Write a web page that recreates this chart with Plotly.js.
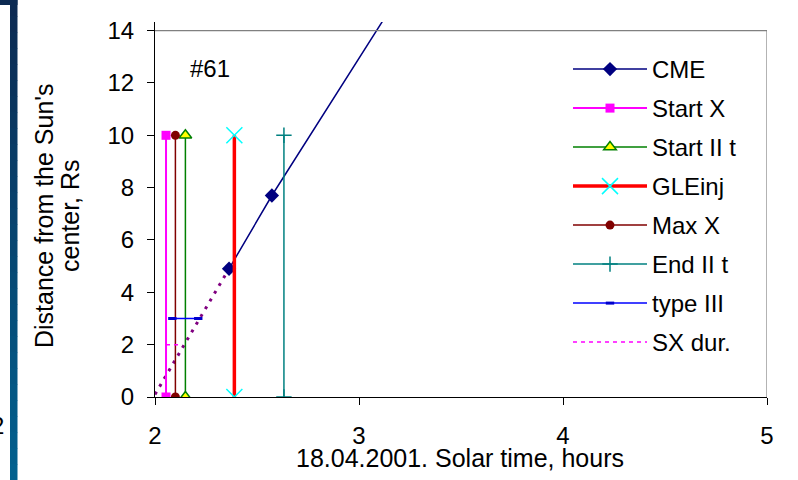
<!DOCTYPE html>
<html>
<head>
<meta charset="utf-8">
<script src="https://cdn.plot.ly/plotly-3.0.1.min.js"></script>
<style>
  html, body { margin: 0; padding: 0; background: #ffffff; }
  #chart { width: 798px; height: 480px; }
</style>
</head>
<body>
<div id="chart"></div>
<script>
// Event #61 — height-time plot, 18.04.2001
const cmeTime  = [2.363, 2.573, 3.2];
const cmeDist  = [4.9, 7.7, 15.4];

// Backward extension of the CME trajectory (dotted)
const trendTime = [2.0, 2.363];
const trendDist = [0.1, 4.9];

// Vertical event markers: time of each event, drawn from 0 to 10 Rs
const markerSpan = [0, 10];
const startXTime   = 2.054;
const startIItTime = 2.149;
const gleInjTime   = 2.389;
const maxXTime     = 2.10;
const endIItTime   = 2.632;

// type III burst interval at 3 Rs
const typeIIITime = [2.085, 2.212];
const typeIIIDist = [3, 3];

// Soft X-ray duration bar at 2 Rs
const sxDurTime = [2.054, 2.117];
const sxDurDist = [2, 2];

const xTicks = [2, 3, 4, 5];
const yTicks = [0, 2, 4, 6, 8, 10, 12, 14];

const xTitle = '18.04.2001. Solar time, hours';
const yTitleLines = ["Distance from the Sun's", 'center, Rs'];

const FONT = 'Liberation Sans, Arial, sans-serif';

function vline(t) { return [t, t]; }

const traces = [
  {
    x: trendTime, y: trendDist, mode: 'lines', showlegend: false,
    line: { color: '#800080', width: 3, dash: '3px,6px' }, hoverinfo: 'skip'
  },
  {
    name: 'CME', legendgroup: 'g1', x: cmeTime, y: cmeDist, mode: 'lines+markers',
    line: { color: '#000080', width: 1.5 },
    marker: { symbol: 'diamond', size: 11, color: '#000080' }
  },
  {
    name: 'Start X', legendgroup: 'g2', x: vline(startXTime), y: markerSpan, mode: 'lines+markers',
    line: { color: '#FF00FF', width: 2 },
    marker: { symbol: 'square', size: 9, color: '#FF00FF' }
  },
  {
    name: 'Start II t', legendgroup: 'g3', x: vline(startIItTime), y: markerSpan, mode: 'lines+markers',
    line: { color: '#008000', width: 1.5 },
    marker: { symbol: 'triangle-up', size: 11, color: '#FFFF00', line: { color: '#008000', width: 1.5 } }
  },
  {
    name: 'GLEinj', legendgroup: 'g4', x: vline(gleInjTime), y: markerSpan, mode: 'lines+markers',
    line: { color: '#FF0000', width: 3.5 },
    marker: { symbol: 'x-thin', size: 16, color: '#00FFFF', line: { color: '#00FFFF', width: 1.5 } }
  },
  {
    name: 'Max X', legendgroup: 'g5', x: vline(maxXTime), y: markerSpan, mode: 'lines+markers',
    line: { color: '#800000', width: 1.5 },
    marker: { symbol: 'circle', size: 9, color: '#800000' }
  },
  {
    name: 'End II t', legendgroup: 'g6', x: vline(endIItTime), y: markerSpan, mode: 'lines+markers',
    line: { color: '#008080', width: 1.5 },
    marker: { symbol: 'cross-thin', size: 11, color: '#008080', line: { color: '#008080', width: 1.5 } }
  },
  {
    name: 'type III', legendgroup: 'g7', x: typeIIITime, y: typeIIIDist, mode: 'lines+markers',
    line: { color: '#0000FF', width: 1.5 },
    marker: { symbol: 'line-ew', size: 6, color: '#000080', line: { color: '#0000CC', width: 3 } }
  },
  {
    name: 'SX dur.', legendgroup: 'g8', x: sxDurTime, y: sxDurDist, mode: 'lines',
    line: { color: '#FF00FF', width: 1.5, dash: '4px,4px' }
  }
];

// Decorative slide edge: vertical band with a navy-to-teal gradient
const shapes = [];
const plotW = 612, plotH = 375, ml = 155, mt = 22;
const px = v => (v - ml) / plotW;
const py = v => (mt + plotH - v) / plotH;
const bandTop = [12, 42, 82], bandBot = [2, 96, 142];
const bands = 30;
for (let i = 0; i < bands; i++) {
  const f = i / (bands - 1);
  const c = bandTop.map((a, k) => Math.round(a + (bandBot[k] - a) * f));
  shapes.push({
    type: 'rect', xref: 'paper', yref: 'paper', layer: 'above',
    x0: px(10), x1: px(17.5),
    y0: py(480 * (i + 1) / bands + 0.5), y1: py(480 * i / bands),
    fillcolor: 'rgb(' + c.join(',') + ')', line: { width: 0 }
  });
}
shapes.push({
  type: 'rect', xref: 'paper', yref: 'paper', layer: 'above',
  x0: px(0), x1: px(17.5), y0: py(5), y1: py(0),
  fillcolor: 'rgb(12,42,82)', line: { width: 0 }
});
// Plot frame: grey top and right edges
shapes.push({ type: 'line', xref: 'x', yref: 'y', x0: 2, x1: 5, y0: 14, y1: 14, line: { color: '#808080', width: 1.2 } });
shapes.push({ type: 'line', xref: 'x', yref: 'y', x0: 5, x1: 5, y0: 0, y1: 14, line: { color: '#808080', width: 1.2 } });

const titleFont = { family: FONT, size: 25, color: '#000000' };

const layout = {
  width: 798, height: 480,
  margin: { l: ml, r: 31, t: mt, b: 83 },
  paper_bgcolor: '#ffffff', plot_bgcolor: '#ffffff',
  font: { family: FONT, size: 24, color: '#000000' },
  showlegend: true,
  legend: {
    x: px(568), y: py(47), xanchor: 'left', yanchor: 'top',
    traceorder: 'grouped', tracegroupgap: 4.8,
    font: { family: FONT, size: 24, color: '#000000' },
    bgcolor: 'rgba(0,0,0,0)', borderwidth: 0, itemwidth: 74
  },
  xaxis: {
    range: [2, 5], tickvals: xTicks, ticktext: xTicks.map(String),
    showgrid: false, zeroline: false, showline: true, linecolor: '#000000', linewidth: 1,
    ticks: 'outside', ticklen: 7, tickcolor: '#000000', ticklabelstandoff: 10,
    tickfont: { family: FONT, size: 24, color: '#000000' }
  },
  yaxis: {
    range: [0, 14.33], tickvals: yTicks, ticktext: yTicks.map(String),
    showgrid: false, zeroline: false, showline: true, linecolor: '#000000', linewidth: 1,
    ticks: 'outside', ticklen: 7, tickcolor: '#000000', ticklabelstandoff: 8,
    tickfont: { family: FONT, size: 24, color: '#000000' }
  },
  shapes: shapes,
  annotations: [
    {
      text: xTitle, xref: 'paper', yref: 'paper', x: px(460), y: py(458),
      xanchor: 'center', yanchor: 'middle', showarrow: false, font: titleFont
    },
    {
      text: yTitleLines[0], xref: 'paper', yref: 'paper', x: px(44), y: py(216), textangle: -90,
      xanchor: 'center', yanchor: 'middle', showarrow: false, font: titleFont
    },
    {
      text: yTitleLines[1], xref: 'paper', yref: 'paper', x: px(70), y: py(216), textangle: -90,
      xanchor: 'center', yanchor: 'middle', showarrow: false, font: titleFont
    },
    {
      text: '#61', xref: 'x', yref: 'y', x: 2.27, y: 12.55, showarrow: false,
      font: { family: FONT, size: 24, color: '#000000' }
    },
    {
      text: '2', xref: 'paper', yref: 'paper', x: px(5), y: py(426), xanchor: 'right', yanchor: 'middle',
      showarrow: false, borderpad: 0, font: { family: FONT, size: 24, color: '#000000' }
    }
  ]
};

Plotly.newPlot('chart', traces, layout, { staticPlot: true, displayModeBar: false });
</script>
</body>
</html>
